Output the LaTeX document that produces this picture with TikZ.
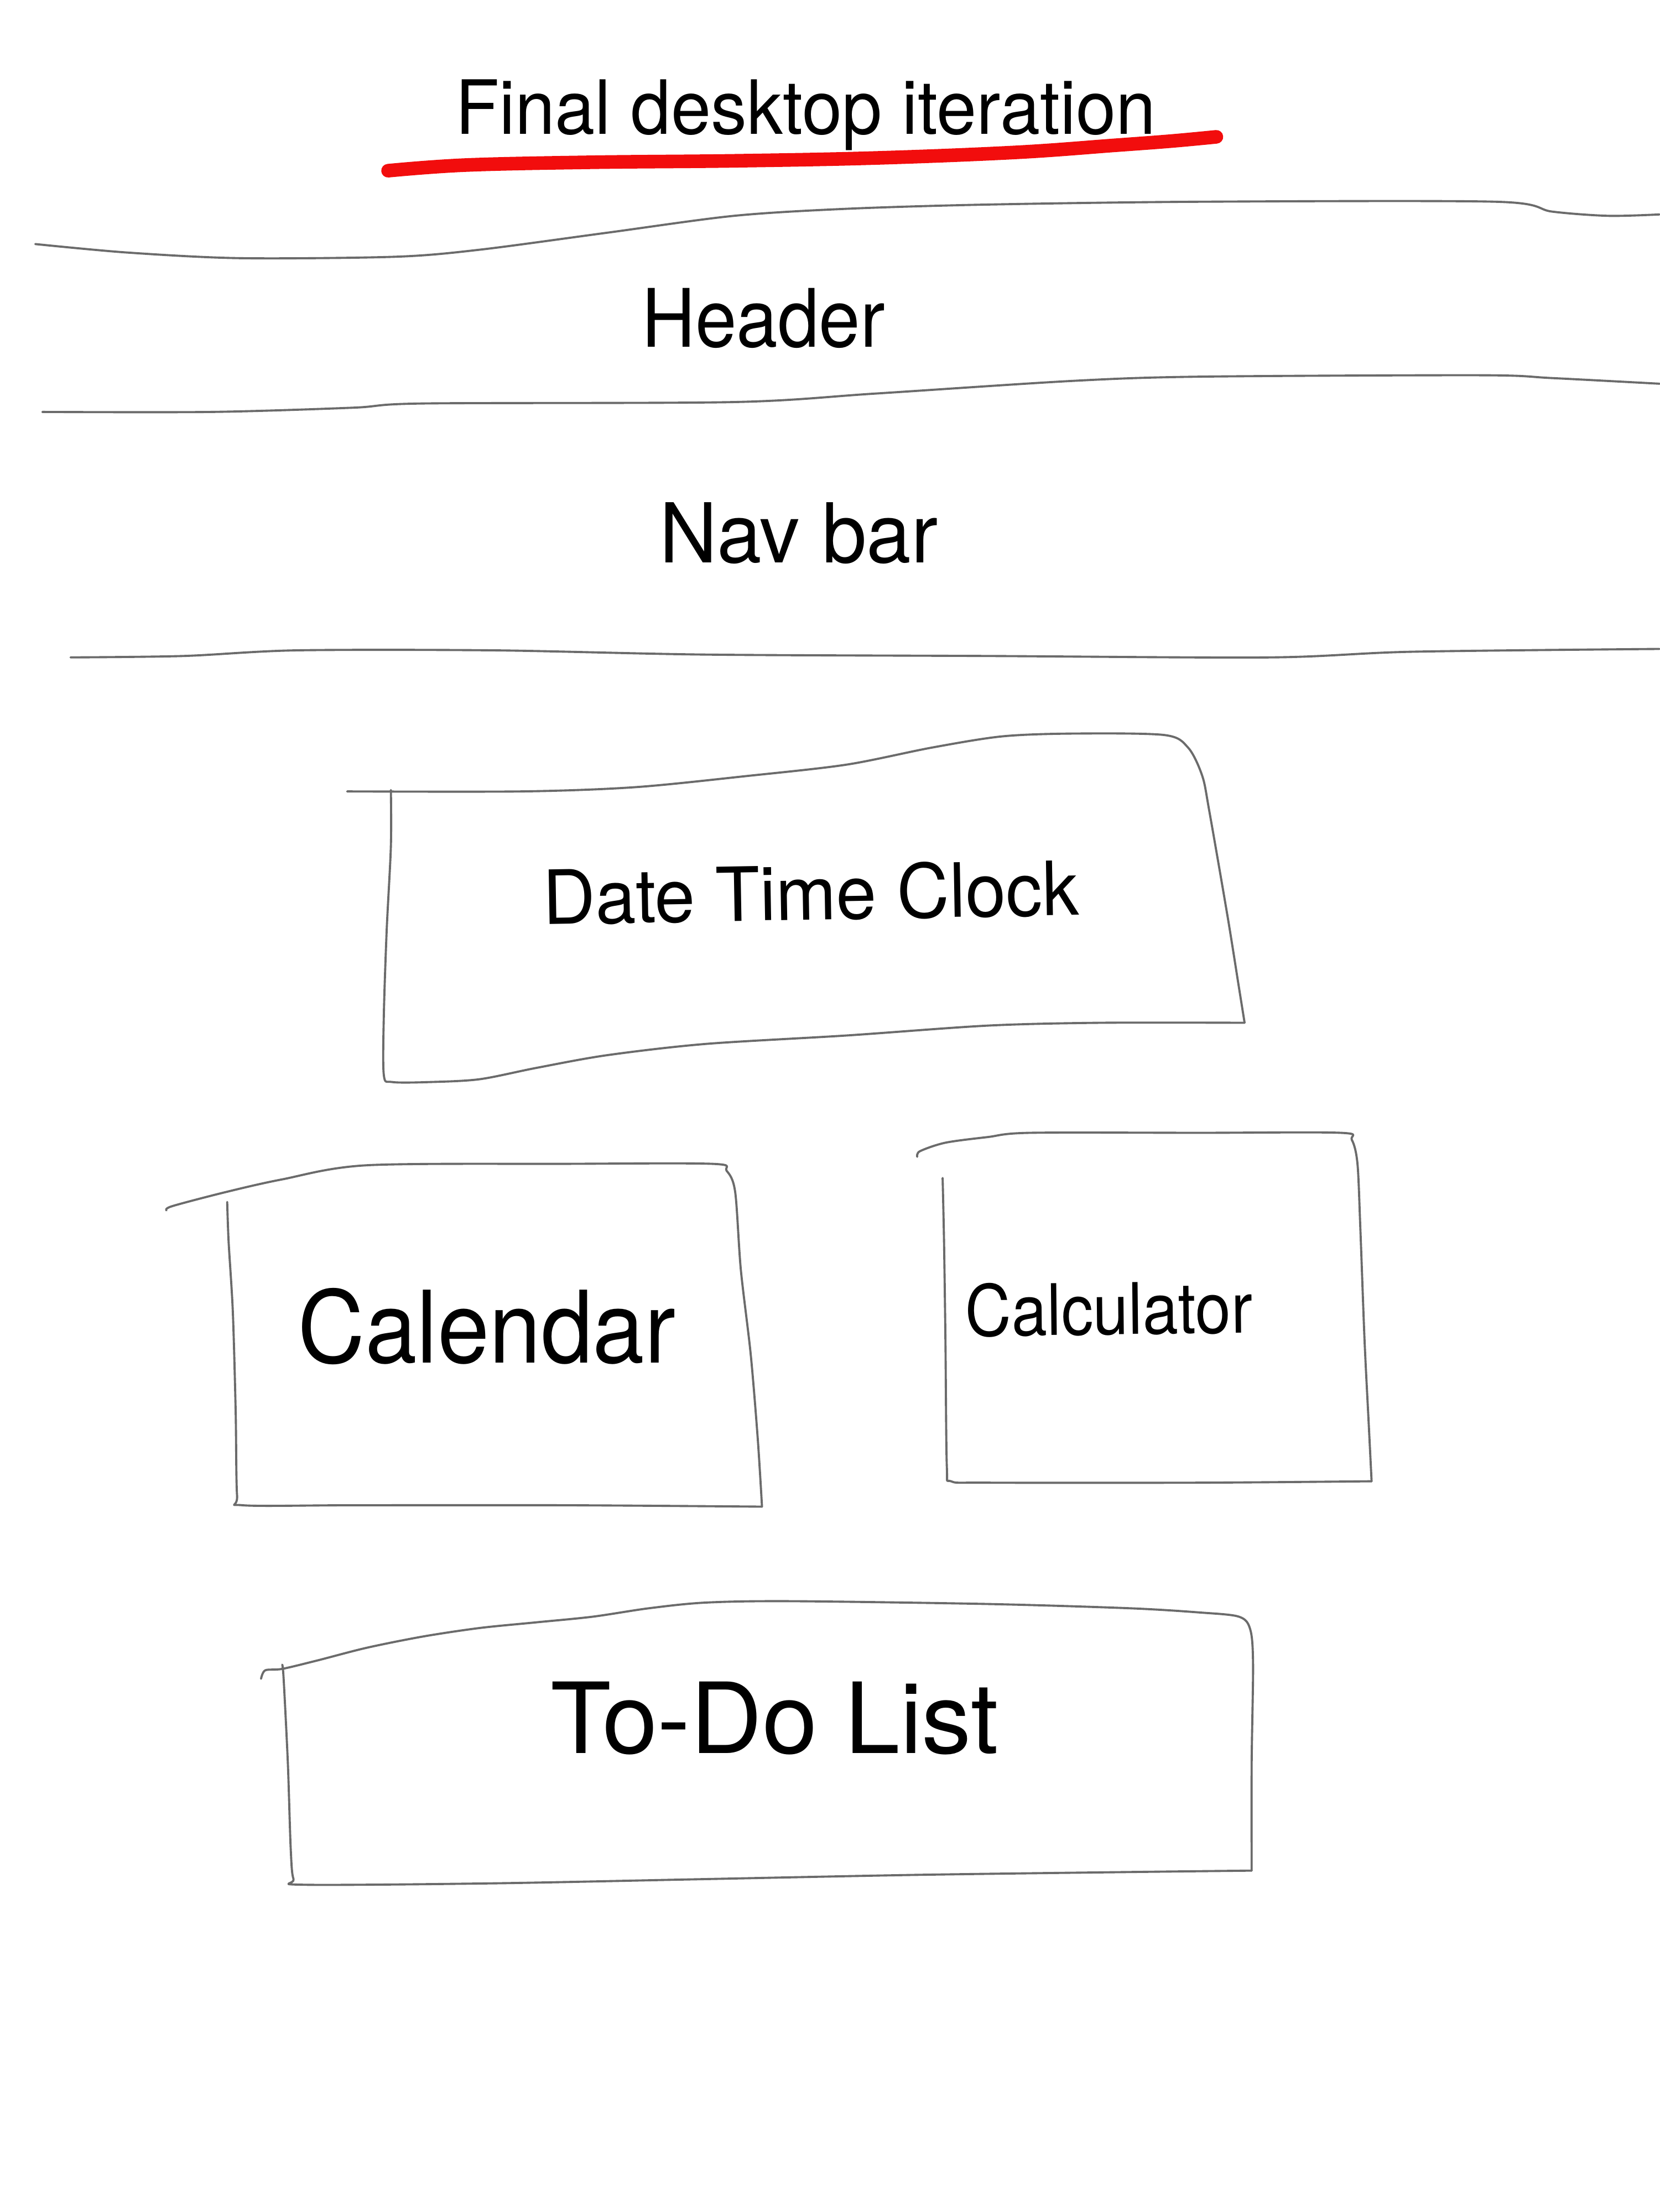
\documentclass[tikz,border=0pt]{standalone}
\usepackage{fontspec}
\setmainfont{TeX Gyre Heros}
\usepackage{graphicx}
\newcommand{\sk}[3]{\scalebox{#2}[1]{\fontsize{#1}{#1}\selectfont #3}}
\definecolor{pencil}{rgb}{0.42,0.42,0.42}
\definecolor{marker}{rgb}{0.95,0.05,0.05}
\tikzset{
  sketch/.style={draw=pencil, line width=1.1pt, line cap=round, line join=round},
  redmark/.style={draw=marker, line width=7pt, line cap=round, line join=round},
  lbl/.style={inner sep=0pt, anchor=base, text=black}
}
\begin{document}
\begin{tikzpicture}[x=0.025510cm, y=-0.025510cm]
\fill[white] (0,0) rectangle (1176,1568);
\path[use as bounding box] (0,0) rectangle (1176,1568);

% title and red underline
\node[lbl] (title) at (571,95) {\sk{38.5pt}{0.96}{Final desktop iteration}};
\draw[redmark] plot[smooth, tension=0.6] coordinates {(275,121) (330,117) (420,115) (520,114) (620,112) (720,108) (790,103) (830,100) (862,97)};

% header separators
\draw[sketch] plot[smooth, tension=0.5] coordinates {(25,173) (90,179) (170,183) (280,182) (340,177) (430,165) (520,153) (600,148) (700,145) (850,143) (1060,143) (1100,150) (1140,153) (1176,152)};
\node[lbl] (header) at (541,246) {\sk{41.5pt}{0.92}{Header}};
\draw[sketch] plot[smooth, tension=0.5] coordinates {(30,292) (150,292) (250,289) (300,286) (520,285) (620,279) (760,270) (850,267) (1050,266) (1100,268) (1176,272)};
\node[lbl] (nav) at (566,399) {\sk{42.5pt}{0.97}{Nav bar}};
\draw[sketch] plot[smooth, tension=0.5] coordinates {(50,466) (130,465) (210,461) (350,461) (500,464) (700,465) (900,466) (1000,462) (1176,460)};

% Date Time Clock box
\draw[sketch] plot[smooth, tension=0.5] coordinates {(246,561) (370,561) (450,558) (530,550) (600,542) (660,530) (710,522) (760,520) (825,521) (842,530) (852,550) (857,575) (870,650) (878,700) (882,725)};
\draw[sketch] plot[smooth, tension=0.5] coordinates {(882,725) (780,725) (700,727) (600,734) (500,740) (430,748) (380,757) (340,765) (305,767) (278,767) (272,762) (272,720) (274,660) (277,600) (277,560)};
\node[lbl, rotate=1] (clock) at (575,652) {\sk{38.5pt}{0.97}{Date Time Clock}};

% Calendar box
\draw[sketch] plot[smooth, tension=0.5] coordinates {(118,858) (122,855) (160,845) (200,836) (260,826) (400,825) (505,825) (515,830) (521,845) (525,900) (532,960) (537,1020) (540,1068)};
\draw[sketch] plot[smooth, tension=0.5] coordinates {(540,1068) (400,1067) (250,1067) (172,1067) (168,1060) (167,1000) (165,930) (162,880) (161,852)};
\node[lbl] (calendar) at (345,966) {\sk{51.5pt}{0.93}{Calendar}};

% Calculator box
\draw[sketch] plot[smooth, tension=0.5] coordinates {(650,820) (652,816) (670,810) (700,806) (730,803) (850,803) (950,803) (958,808) (962,825) (964,870) (967,950) (970,1010) (972,1050)};
\draw[sketch] plot[smooth, tension=0.5] coordinates {(972,1050) (850,1051) (700,1051) (674,1050) (671,1040) (670,950) (669,880) (668,835)};
\node[lbl, rotate=0.6] (calculator) at (786,946) {\sk{36.5pt}{0.90}{Calculator}};

% To-Do List box
\draw[sketch] plot[smooth, tension=0.5] coordinates {(185,1190) (188,1184) (200,1183) (225,1177) (260,1168) (300,1160) (340,1154) (380,1150) (420,1146) (460,1140) (500,1136) (560,1135) (700,1137) (800,1140) (850,1143) (878,1146) (886,1155) (888,1180) (887,1250) (887,1326)};
\draw[sketch] plot[smooth, tension=0.5] coordinates {(887,1326) (800,1327) (650,1329) (500,1332) (350,1335) (215,1336) (208,1332) (206,1310) (204,1250) (201,1190) (200,1180)};
\node[lbl] (todo) at (549,1243) {\sk{50.5pt}{1.01}{To-Do List}};
\end{tikzpicture}
\end{document}
